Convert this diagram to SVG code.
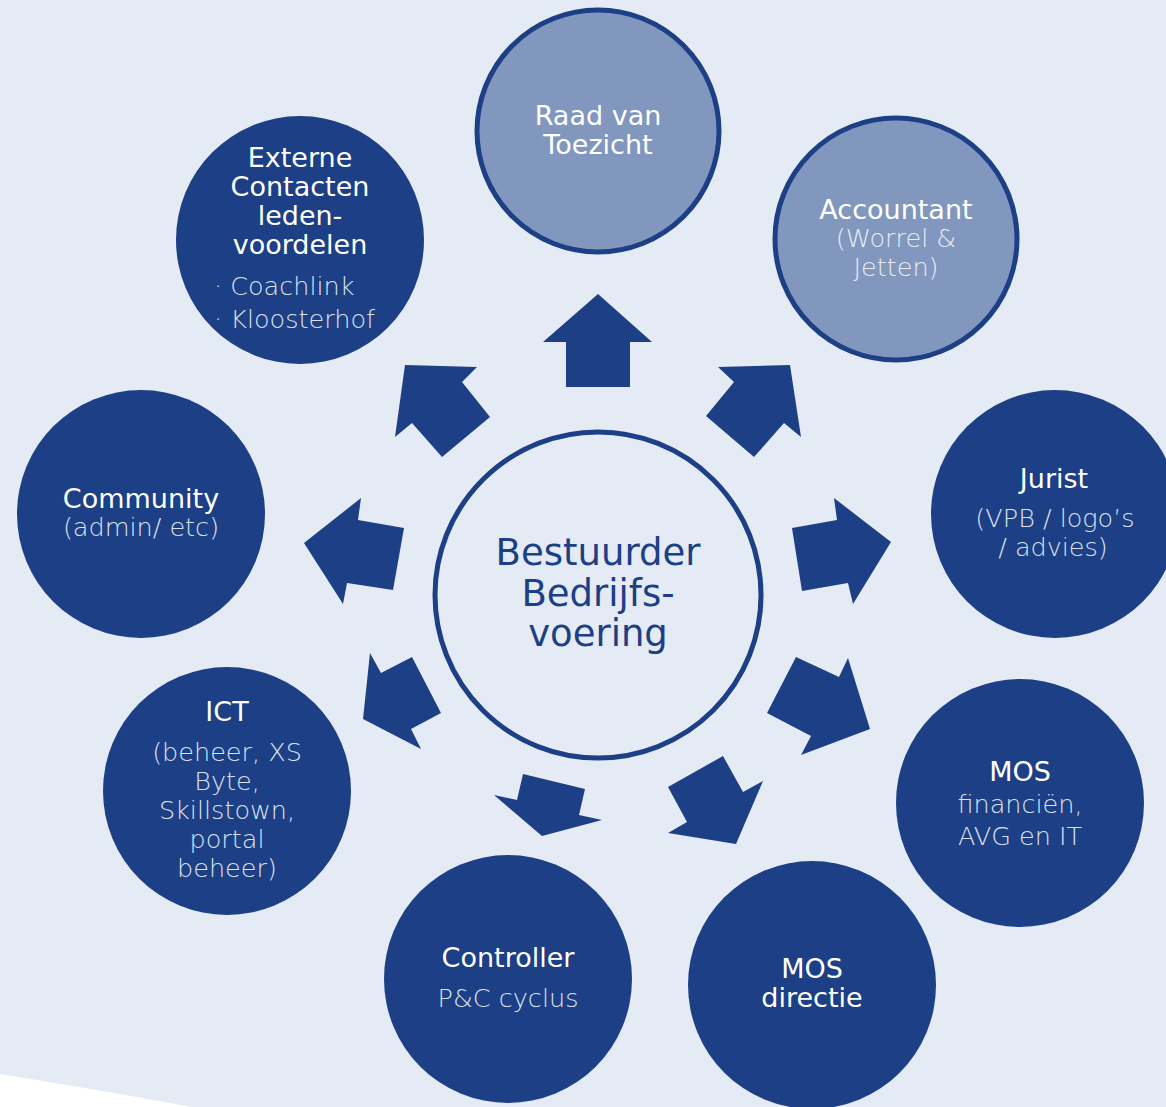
<svg xmlns="http://www.w3.org/2000/svg" width="1166" height="1107" viewBox="0 0 1166 1107">
<style>
.bg{fill:#E4EBF4}
.dark{fill:#1C3F85;stroke:none}
.light{fill:#8197BE;stroke:#1C3F85;stroke-width:5}
.center{fill:#E4EBF4;stroke:#1C3F85;stroke-width:5}
.arrow{fill:#1C3F85}
text{font-family:"DejaVu Sans","Liberation Sans",sans-serif;font-size:25.5px;text-anchor:middle}
.t{fill:#FFFFFF;font-size:27px}
.s{fill:#DCE2EE;font-weight:300}
.sa{fill:#E8ECF3;font-weight:300}
.c{fill:#1C3F85;font-size:37px}
</style>
<rect class="bg" x="0" y="0" width="1166" height="1107"/>
<path d="M0,1074 Q100,1090 192,1107 L0,1107 Z" fill="#FFFFFF"/>

<g id="connectors">
<polygon class="arrow" points="566,387 630,387 630,342 652,342 598,294 543,342 566,342"/>
<polygon class="arrow" points="718,367 790,365 801,437 784,423 754,457 706,416 734,382"/>
<polygon class="arrow" points="834,498 891,542 853,604 848,583 802,591 792,528 837,520"/>
<polygon class="arrow" points="796,657 839,677 848,658 870,729 801,755 811,736 767,713"/>
<polygon class="arrow" points="723,756 743,792 763,781 736,844 668,833 687,822 668,787"/>
<polygon class="arrow" points="523,774 585,789 579,815 602,820 542,836 494,795 517,800"/>
<polygon class="arrow" points="370,653 381,673 412,657 441,713 411,729 421,749 363,719"/>
<polygon class="arrow" points="361,498 358,520 404,528 393,590 347,583 343,604 304,543"/>
<polygon class="arrow" points="405,365 477,367 462,382 490,417 442,457 412,423 395,437"/>
</g>

<g id="node-center">
<circle class="center" cx="598" cy="595" r="163"/>
<text class="c" x="598" y="565">Bestuurder</text>
<text class="c" x="598" y="606">Bedrijfs-</text>
<text class="c" x="598" y="646">voering</text>
</g>

<g id="node-raad">
<circle class="light" cx="598" cy="131" r="121"/>
<text class="t" x="598" y="125">Raad van</text>
<text class="t" x="598" y="154">Toezicht</text>
</g>

<g id="node-accountant">
<circle class="light" cx="896" cy="239" r="121"/>
<text class="t" x="896" y="219">Accountant</text>
<text class="sa" x="896" y="247">(Worrel &amp;</text>
<text class="sa" x="896" y="276">Jetten)</text>
</g>

<g id="node-externe">
<circle class="dark" cx="300" cy="240" r="124"/>
<text class="t" x="300" y="167">Externe</text>
<text class="t" x="300" y="196">Contacten</text>
<text class="t" x="300" y="225">leden-</text>
<text class="t" x="300" y="254">voordelen</text>
<text class="s" x="214" y="295" style="text-anchor:start">· Coachlink</text>
<text class="s" x="214" y="328" style="text-anchor:start">· Kloosterhof</text>
</g>

<g id="node-community">
<circle class="dark" cx="141" cy="514" r="124"/>
<text class="t" x="141" y="508">Community</text>
<text class="s" x="141" y="536">(admin/ etc)</text>
</g>

<g id="node-jurist">
<circle class="dark" cx="1055" cy="514" r="124"/>
<text class="t" x="1054" y="488">Jurist</text>
<text class="s" x="1055" y="527">(VPB / logo’s</text>
<text class="s" x="1053" y="556">/ advies)</text>
</g>

<g id="node-ict">
<circle class="dark" cx="227" cy="791" r="124"/>
<text class="t" x="227" y="721">ICT</text>
<text class="s" x="227" y="761">(beheer, XS</text>
<text class="s" x="227" y="790">Byte,</text>
<text class="s" x="227" y="819">Skillstown,</text>
<text class="s" x="227" y="848">portal</text>
<text class="s" x="227" y="877">beheer)</text>
</g>

<g id="node-controller">
<circle class="dark" cx="508" cy="979" r="124"/>
<text class="t" x="508" y="967">Controller</text>
<text class="s" x="508" y="1007">P&amp;C cyclus</text>
</g>

<g id="node-mos-directie">
<circle class="dark" cx="812" cy="985" r="124"/>
<text class="t" x="812" y="978">MOS</text>
<text class="t" x="812" y="1007">directie</text>
</g>

<g id="node-mos-fin">
<circle class="dark" cx="1020" cy="803" r="124"/>
<text class="t" x="1020" y="781">MOS</text>
<text class="s" x="1020" y="813">financiën,</text>
<text class="s" x="1020" y="845">AVG en IT</text>
</g>
</svg>
